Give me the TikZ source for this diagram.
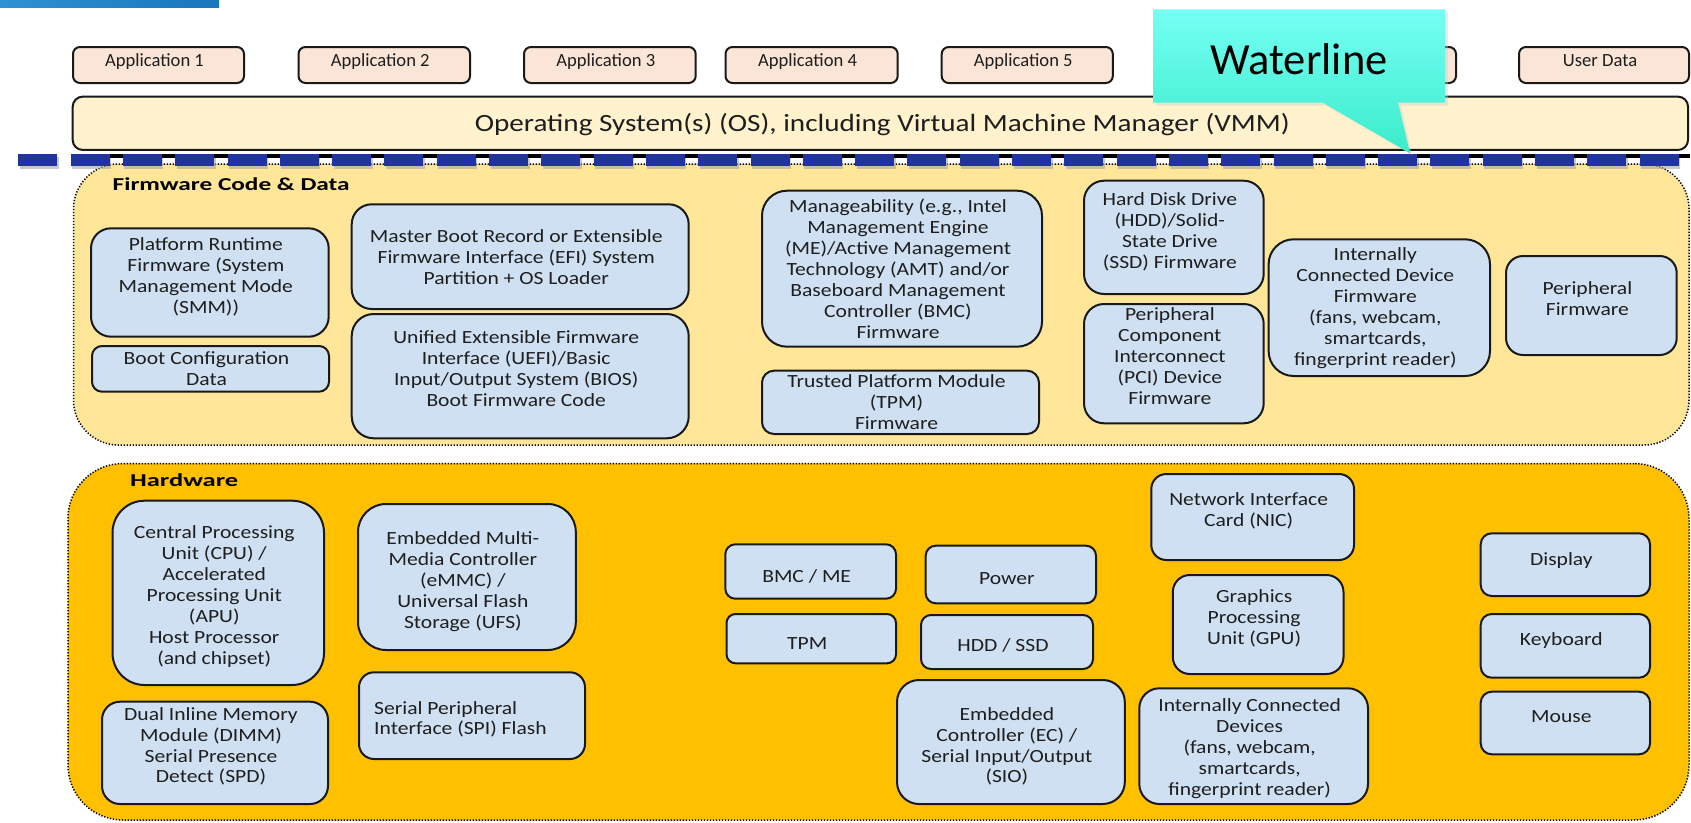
\documentclass[tikz,border=0pt]{standalone}
\usepackage{fontspec}
\usepackage{graphicx}
\setmainfont{Carlito}
\newfontfamily\wfont[FakeStretch=1.16]{Carlito}
\definecolor{appfill}{RGB}{251,229,214}
\definecolor{osfill}{RGB}{255,242,204}
\definecolor{fwpanel}{RGB}{255,230,153}
\definecolor{hwpanel}{RGB}{255,192,0}
\definecolor{boxfill}{RGB}{207,224,242}
\definecolor{dashblue}{RGB}{33,51,160}
\definecolor{edge}{RGB}{25,25,25}
\definecolor{txt}{RGB}{30,30,30}
\definecolor{calltop}{RGB}{117,255,244}
\definecolor{callbot}{RGB}{58,236,202}
\definecolor{barL}{RGB}{46,146,212}
\definecolor{barR}{RGB}{24,118,188}
\tikzset{
  bx/.style={draw=edge, line width=2pt, fill=boxfill, inner sep=0pt, outer sep=0pt},
  bt/.style={font=\wfont\fontsize{18.6}{20.9}\selectfont, align=center, inner sep=0pt, text=txt,
    execute at begin node=\strut, execute at end node=\strut},
  appbox/.style={draw=edge, line width=2pt, fill=appfill, rounded corners=7pt, inner sep=0pt,
    minimum height=36pt},
  apptext/.style={font=\fontsize{18.6}{22}\selectfont, anchor=base, inner sep=0pt, text=txt},
  panel/.style={draw=black, line width=1.5pt, dash pattern=on 1.3pt off 1.7pt, inner sep=0pt},
  paneltitle/.style={font=\bfseries\fontsize{18.2}{20}\selectfont, anchor=base west, inner sep=0pt, text=black}
}
\newcommand\rb[8]{%
  \node[bx, rounded corners=#6pt, minimum width={(#4-#2)*1pt}, minimum height={(#5-#3)*1pt}]
    (#1) at ({(#2+#4)/2},{(#3+#5)/2}) {};
  \node[bt] (#1t) at ({(#2+#4)/2-4},#7) {#8};}
\newcommand\ab[4]{%
  \node[appbox, minimum width={(#3-#2)*1pt}] (#1) at ({(#2+#3)/2},65) {};
  \node[apptext] (#1t) at ({(#2+#3)/2-4},66) {#4};}
\begin{document}
\begin{tikzpicture}[x=1pt,y=-1pt]
\useasboundingbox (0,0) rectangle (1691,822);
\fill[white] (0,0) rectangle (1691,822);
\shade[left color=barL, right color=barR] (0,0) rectangle (219,7);

% panels
\node[panel, fill=fwpanel, rounded corners=45pt, minimum width=1615.5pt, minimum height=281pt]
  (fw) at ({(73.5+1689)/2},{(164+445)/2}) {};
\node[panel, fill=hwpanel, rounded corners=55pt, minimum width=1621pt, minimum height=356.5pt]
  (hw) at ({(68+1689)/2},{(463.5+820)/2}) {};
\node[paneltitle] (fwlabel) at (112.5,190) {\resizebox{237pt}{\height}{Firmware Code \& Data}};
\node[paneltitle] (hwlabel) at (130,486.7) {\resizebox{108pt}{\height}{Hardware}};

% applications
\ab{app1}{73}{244}{Application 1}
\ab{app2}{298.5}{470}{Application 2}
\ab{app3}{524}{695.7}{Application 3}
\ab{app4}{725.5}{897.7}{Application 4}
\ab{app5}{941.7}{1112.8}{Application 5}
\node[appbox, minimum width=206pt] (app6) at (1353,65) {};
\ab{udata}{1519}{1689}{User Data}

% OS
\node[draw=edge, line width=2pt, fill=osfill, rounded corners=10pt, inner sep=0pt,
  minimum width=1615.3pt, minimum height=53.3pt] (os) at ({(72.7+1688)/2},123.3) {};
\node[font=\fontsize{24.8}{28}\selectfont, anchor=base, inner sep=0pt, text=txt] (ost) at (882.3,131)
  {\resizebox{815pt}{\height}{Operating System(s) (OS), including Virtual Machine Manager (VMM)}};

% firmware boxes
\rb{prf}{91}{228.3}{328.7}{336.7}{20}{278.7}{Platform Runtime\\Firmware (System\\Management Mode\\(SMM))}
\rb{bcd}{92}{346}{329}{391.7}{10}{371.7}{Boot Configuration\\Data}
\rb{mbr}{351.7}{204.3}{688.7}{309}{20}{260.5}{Master Boot Record or Extensible\\Firmware Interface (EFI) System\\Partition + OS Loader}
\rb{uefi}{351.7}{314}{688.7}{438.3}{22}{372}{Unified Extensible Firmware\\Interface (UEFI)/Basic\\Input/Output System (BIOS)\\Boot Firmware Code}
\rb{mgmt}{762}{190.7}{1042}{346.7}{25}{272}{Manageability (e.g., Intel\\Management Engine\\(ME)/Active Management\\Technology (AMT) and/or\\Baseboard Management\\Controller (BMC)\\Firmware}
\rb{tpmfw}{762}{370.7}{1039}{434}{12}{405}{Trusted Platform Module\\(TPM)\\Firmware}
\rb{hddfw}{1084}{180.7}{1263.7}{294}{20}{233.7}{Hard Disk Drive\\(HDD)/Solid-\\State Drive\\(SSD) Firmware}
\rb{pcifw}{1084}{304}{1263.7}{423.3}{20}{359.3}{Peripheral\\Component\\Interconnect\\(PCI) Device\\Firmware}
\rb{icdfw}{1268.6}{239.3}{1490}{376}{25}{309.8}{Internally\\Connected Device\\Firmware\\(fans, webcam,\\smartcards,\\fingerprint reader)}
\rb{perfw}{1506}{256}{1676.7}{355}{17}{301.5}{Peripheral\\Firmware}

% hardware boxes
\rb{cpu}{112.5}{500.7}{324}{685}{32}{598.3}{Central Processing\\Unit (CPU) /\\Accelerated\\Processing Unit\\(APU)\\Host Processor\\(and chipset)}
\rb{dimm}{102}{701.7}{328}{804}{18}{748.3}{Dual Inline Memory\\Module (DIMM)\\Serial Presence\\Detect (SPD)}
\rb{emmc}{358}{504}{575.8}{650}{28}{583.3}{Embedded Multi-\\Media Controller\\(eMMC) /\\Universal Flash\\Storage (UFS)}
\node[bx, rounded corners=15pt, minimum width=226pt, minimum height=86.7pt] (spi) at ({(359+585)/2},{(672.3+759)/2}) {};
\node[bt, align=left, anchor=west] (spit) at (374,721.2) {Serial Peripheral\\Interface (SPI) Flash};
\rb{bmc}{725.3}{544.3}{896}{598.7}{10}{578}{BMC / ME}
\rb{tpm}{726.5}{614}{896}{663.3}{9}{645.3}{TPM}
\rb{power}{925.7}{545.7}{1096}{603.3}{10}{580.3}{Power}
\rb{hdd}{921}{615}{1093}{669}{10}{647}{HDD / SSD}
\rb{ec}{897}{680}{1124.8}{804}{22}{748.3}{Embedded\\Controller (EC) /\\Serial Input/Output\\(SIO)}
\rb{nic}{1151.3}{474}{1354}{560}{15}{512.8}{Network Interface\\Card (NIC)}
\rb{gpu}{1172.8}{575}{1343.5}{674}{17}{620.2}{Graphics\\Processing\\Unit (GPU)}
\rb{icd}{1139.3}{688.3}{1368}{804}{20}{750}{Internally Connected\\Devices\\(fans, webcam,\\smartcards,\\fingerprint reader)}
\rb{disp}{1480.7}{533.3}{1650}{596}{11}{561}{Display}
\rb{kbd}{1480.7}{614}{1650}{677.7}{11}{641}{Keyboard}
\rb{mouse}{1480.7}{691.7}{1650}{754.3}{11}{718.7}{Mouse}

% waterline
\draw[black!35, opacity=0.6, line width=12pt, dash pattern=on 39pt off 13.3pt] (19.8,163) -- (1680,163);
\draw[black, line width=4pt] (110,156) -- (1690,156);
\draw[dashblue, line width=12pt, dash pattern=on 39pt off 13.3pt] (18.3,160) -- (1679,160);

% callout
\coordinate (tip) at (1410,153.3);
\fill[black!20, opacity=0.4] (1156,12.3) -- (1448,12.3) -- (1448,105.7) -- (1401,105.7) -- (1412,155) -- (1326,105.7) -- (1156,105.7) -- cycle;
\shade[top color=calltop, bottom color=callbot] (1153,9.3) -- (1445,9.3) -- (1445,102.7) -- (1398,102.7) -- (tip) -- (1323,102.7) -- (1153,102.7) -- cycle;
\node[font=\fontsize{44.5}{50}\selectfont, anchor=base, inner sep=0pt, text=black] (wl) at (1299,74) {Waterline};
\end{tikzpicture}
\end{document}
